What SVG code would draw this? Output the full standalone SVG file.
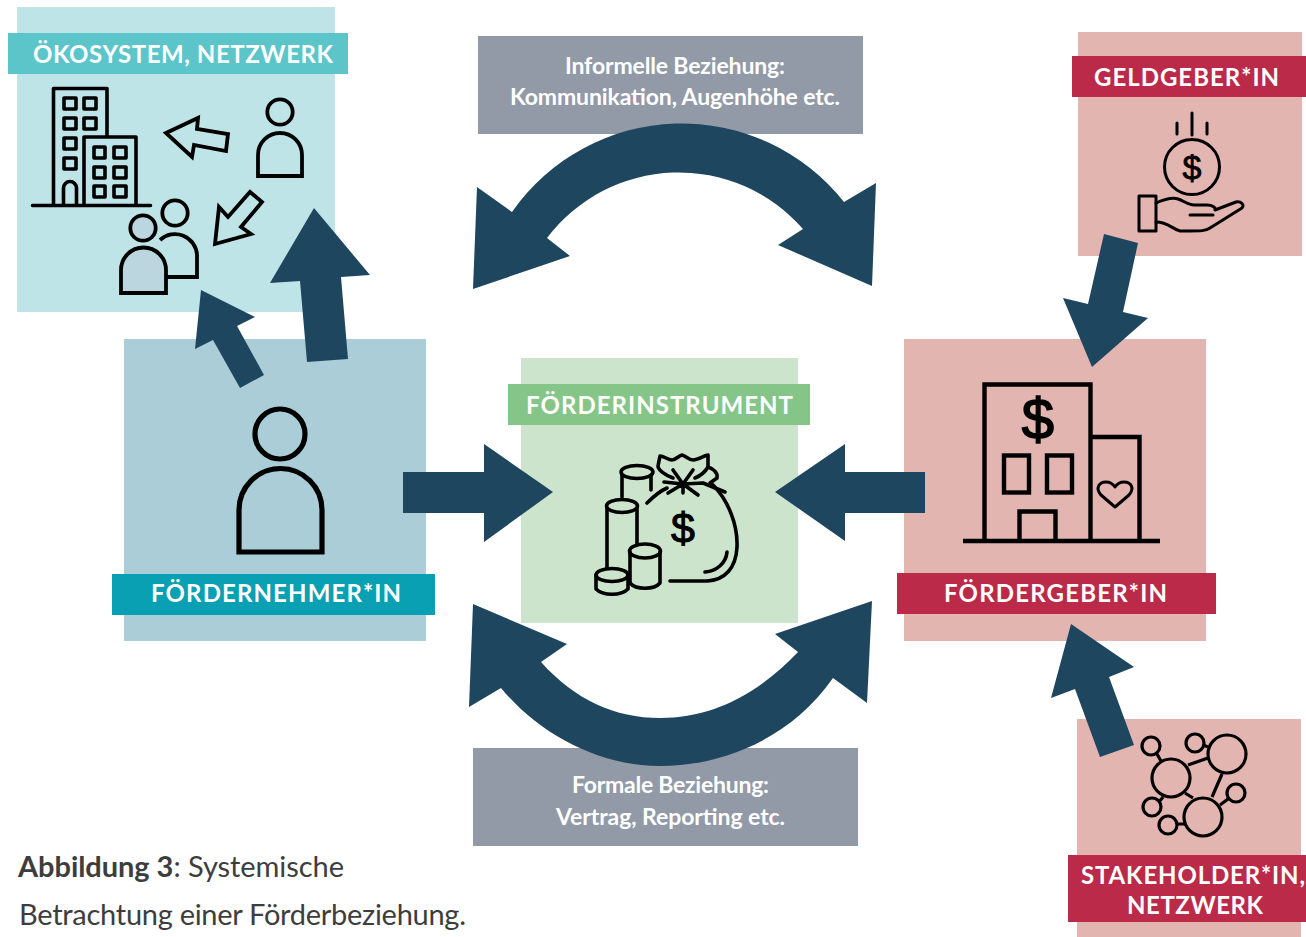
<svg xmlns="http://www.w3.org/2000/svg" width="1306" height="937" viewBox="0 0 1306 937">
<style>
.lab{font-family:"Lato","Liberation Sans",sans-serif;font-weight:700;font-size:24px;fill:#fff}
.rel{font-family:"Lato","Liberation Sans",sans-serif;font-weight:700;font-size:23px;fill:#fff}
.cap{font-family:"Lato","Liberation Sans",sans-serif;font-size:29px;fill:#3d3d3d}
.arr{fill:#1e465f}
.ic{fill:none;stroke:#000;stroke-width:3.600;stroke-linecap:round;stroke-linejoin:round}
.ic2{fill:none;stroke:#000;stroke-width:3.800;stroke-linejoin:miter}
.dol{font-family:"Liberation Sans",sans-serif;fill:#000;stroke:#000;text-anchor:middle}
</style>
<rect width="1306" height="937" fill="#fff"/>

<g id="oekosystem">
<rect x="17" y="7" width="318" height="305" fill="#bfe4e7"/>
<rect x="8" y="33" width="340" height="41" fill="#5cc5ca"/>
<text class="lab" x="33" y="63" textLength="300">ÖKOSYSTEM, NETZWERK</text>
<g class="ic">
<path d="M53.500 205V88.500H107V137M84 205V137H136V205M32.500 205.500H150.500"/>
<rect x="64" y="98" width="12" height="11"/><rect x="84" y="98" width="12" height="11"/>
<rect x="64" y="118" width="12" height="11"/><rect x="84" y="118" width="12" height="11"/>
<rect x="64" y="138" width="12" height="11"/><rect x="64" y="158" width="12" height="11"/>
<path d="M63.500 205V188A6.500 6.500 0 0 1 76.500 188V205"/>
<rect x="94" y="147" width="11" height="11"/><rect x="114" y="147" width="12" height="11"/>
<rect x="94" y="167" width="11" height="11"/><rect x="114" y="167" width="12" height="11"/>
<rect x="94" y="186" width="11" height="11"/><rect x="114" y="186" width="12" height="11"/>
</g>
<g class="ic2">
<path d="M166 133L198 118L197 129L228 134L226 151L194 145L192 157Z"/>
<path d="M215 244L219 207L228 217L250 192L262 202L241 227L251 234Z"/>
<circle cx="280" cy="112" r="12.700"/>
<path d="M258 176V155A22 22 0 0 1 302 155V176Z"/>
<circle cx="175" cy="213" r="12.700"/>
<path d="M160 240A22 22 0 0 1 197 255V277H166"/>
<path d="M121 293V270A22.500 22.500 0 0 1 166 270V293Z" fill="#bcd6df"/>
<circle cx="143" cy="228" r="12.700" fill="#bcd6df"/>
</g>
</g>

<g id="foerdernehmer">
<rect x="124" y="339" width="302" height="302" fill="#aacdd8"/>
<rect x="112" y="574" width="323" height="41" fill="#09a0b3"/>
<text class="lab" x="151" y="602" textLength="250">FÖRDERNEHMER*IN</text>
<circle cx="280" cy="434" r="25" fill="none" stroke="#000" stroke-width="5.200"/>
<path d="M239 552V510A41.500 41.500 0 0 1 322 510V552Z" fill="none" stroke="#000" stroke-width="5.200"/>
</g>

<g id="foerderinstrument">
<rect x="521" y="358" width="277" height="265" fill="#cde4cc"/>
<rect x="508" y="384" width="302" height="41" fill="#86c588"/>
<text class="lab" x="526" y="414" textLength="267">FÖRDERINSTRUMENT</text>
<g class="ic">
<path d="M647 503C653 497 660 491 667 488M713 485C728 500 738 525 737 547C736 568 725 580 707 581H670"/>
<path d="M705 572C717 571 726 563 727 552"/>
<path d="M673 478C665 475 658 470 658 466L660 456C664 456 668 460 672 460C676 460 678 456 682 455C686 456 689 460 693 460C698 460 703 456 708 455L708 467C705 472 700 476 695 478"/>
<path d="M708 467C714 469 718 473 717 478L710 483"/>
<path d="M673 470L683 484L693 470M664 482L683 484L703 483L725 492M668 493L683 484L698 495M683 484V493"/>
<ellipse cx="637" cy="472" rx="16" ry="6.500"/>
<path d="M622 475V497M651 475V490"/>
<ellipse cx="622" cy="506" rx="15.500" ry="6.500"/>
<path d="M607 508V567M637 508V544"/>
<ellipse cx="645" cy="551" rx="15.500" ry="7"/>
<path d="M630 552V583C636 590 654 590 660 583V552"/>
<ellipse cx="612" cy="575" rx="16" ry="6.500"/>
<path d="M596 575V589C603 596 621 596 628 589V575"/>
</g>
<text class="dol" x="683" y="543" font-size="43" stroke-width="1">$</text>
</g>

<g id="foerdergeber">
<rect x="904" y="339" width="302" height="302" fill="#e3b5b1"/>
<rect x="897" y="573" width="319" height="41" fill="#bb2a48"/>
<text class="lab" x="944" y="602" textLength="223">FÖRDERGEBER*IN</text>
<g fill="none" stroke="#000" stroke-width="4.400">
<path d="M984.500 541V384.500H1090.500V541M1090.500 437H1139.500V541M963 541H1160"/>
<rect x="1004" y="455.500" width="25" height="37"/><rect x="1047" y="455.500" width="25" height="37"/>
<path d="M1019.500 541V511.500H1055.500V541"/>
<path stroke-width="3" stroke-linejoin="round" d="M1115 507L1101 495C1095 488 1099 482 1106 482C1110 482 1113 484 1115 487C1117 484 1120 482 1124 482C1131 482 1135 488 1129 495Z"/>
</g>
<text class="dol" x="1038" y="439" font-size="58" stroke-width="1.600">$</text>
</g>

<g id="geldgeber">
<rect x="1078" y="32" width="224" height="224" fill="#e3b5b1"/>
<rect x="1072" y="56" width="234" height="41" fill="#bb2a48"/>
<text class="lab" x="1094" y="86" textLength="185">GELDGEBER*IN</text>
<g class="ic" style="stroke-width:3">
<path d="M1177 123V134M1192 113V135M1207 123V134"/>
<circle cx="1192" cy="167" r="27.500"/>
<path d="M1156 203C1165 199 1172 197 1178 199C1184 201 1188 205 1194 205H1207C1213 205 1216 208 1215 210L1236 202C1241 201 1245 205 1242 208L1210 228C1206 231 1200 231 1190 231H1180C1172 229 1168 222 1156 222"/>
<rect x="1139" y="196" width="17" height="35"/>
<path d="M1190 215H1213"/>
</g>
<text class="dol" x="1192" y="179" font-size="34" stroke-width=".8">$</text>
</g>

<g id="stakeholder">
<rect x="1077" y="719" width="224" height="218" fill="#e3b5b1"/>
<rect x="1068" y="855" width="238" height="67" fill="#bb2a48"/>
<text class="lab" x="1081" y="884" textLength="224">STAKEHOLDER*IN,</text>
<text class="lab" x="1127" y="914" textLength="136">NETZWERK</text>
<g fill="none" stroke="#000" stroke-width="3.200">
<circle cx="1171" cy="778" r="19"/><circle cx="1227" cy="754" r="19"/><circle cx="1203" cy="817" r="19"/>
<circle cx="1151" cy="746" r="9"/><circle cx="1195" cy="743" r="9"/><circle cx="1236" cy="793" r="9"/><circle cx="1152" cy="807" r="9"/><circle cx="1168" cy="825" r="9"/>
<path d="M1188 765L1208 758M1222 774L1212 797M1185 793L1193 798M1157 754L1161 761M1203 745L1208 747M1228 799L1220 805M1159 802L1163 797M1177 824H1185"/>
</g>
</g>

<g id="informell">
<rect x="478" y="36" width="385" height="98" fill="#9299a7"/>
<text class="rel" x="565" y="74" textLength="220">Informelle Beziehung:</text>
<text class="rel" x="510" y="104.500" textLength="330">Kommunikation, Augenhöhe etc.</text>
</g>

<g id="formal">
<rect x="473" y="748" width="385" height="98" fill="#9299a7"/>
<text class="rel" x="572" y="793" textLength="197">Formale Beziehung:</text>
<text class="rel" x="556" y="824.500" textLength="229">Vertrag, Reporting etc.</text>
</g>

<g id="connectors">
<path class="arr" d="M473 289L477 187L512 212A207 207 0 0 1 844 202L876 183L872 286L778 245L803 229A165 165 0 0 0 547 238L570 256Z"/>
<path class="arr" d="M473 604L567 644L541 662C575 700 615 718 660 718C710 718 755 697 798 652L775 634L872 601L867 703L833 678C790 740 720 766 660 766C600 766 540 735 501 688L469 707Z"/>
<path class="arr" d="M314 208L370 275L341 277L348 359L307 362L300 281L270 283Z"/>
<path class="arr" d="M201 290L255 317L237 326L264 375L240 388L213 340L195 349Z"/>
<path class="arr" d="M403 472H484V444L553 492L484 542V513H403Z"/>
<path class="arr" d="M925 472H845V444L775 492L845 541V513H925Z"/>
<path class="arr" d="M1104 234L1138 243L1123 312L1148 318L1092 367L1063 298L1088 304Z"/>
<path class="arr" d="M1071 624L1134 667L1109 677L1134 745L1100 757L1075 689L1051 698Z"/>
</g>

<g id="caption">
<text class="cap" x="18" y="877" textLength="326"><tspan font-weight="700">Abbildung 3</tspan>: Systemische</text>
<text class="cap" x="19" y="925" textLength="447">Betrachtung einer Förderbeziehung.</text>
</g>
</svg>
